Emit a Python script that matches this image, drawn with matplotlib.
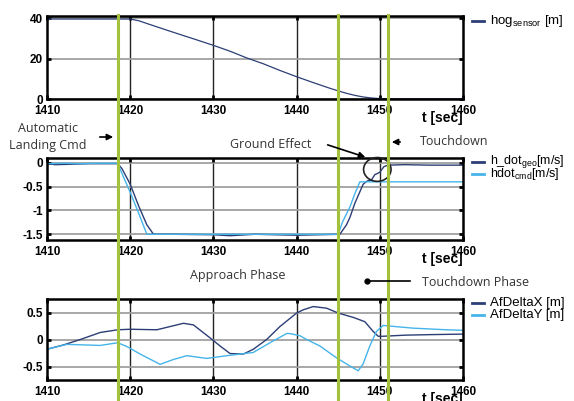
import numpy as np
import matplotlib.pyplot as plt
from matplotlib.patches import Ellipse, FancyArrowPatch

# time axis limits [sec]
T0, T1 = 1410, 1460

# height over ground from sensor [m]
t_hog = [1410, 1420, 1421, 1422, 1425, 1428, 1430, 1432, 1434, 1436, 1438, 1440,
         1442, 1444, 1445, 1446, 1447, 1448, 1449, 1450, 1452, 1460]
hog = [39.5, 39.5, 38.7, 37.3, 33.2, 29.2, 26.5, 23.6, 20.3, 17.4, 14.1, 11.0,
       8.1, 5.3, 4.0, 2.8, 1.8, 1.0, 0.5, 0.2, 0.1, 0.1]

# vertical speed, measured and commanded [m/s]
t_geo = [1410, 1411, 1413, 1415, 1417, 1418.5, 1419, 1420, 1421, 1422, 1422.8, 1425,
         1430, 1432, 1435, 1440, 1445.2, 1446, 1446.4, 1447, 1448, 1448.5, 1449,
         1449.4, 1450, 1450.5, 1451, 1453, 1456, 1460]
h_dot_geo = [-0.02, -0.04, -0.03, -0.02, -0.02, -0.02, -0.12, -0.45, -0.9, -1.3, -1.5, -1.5,
             -1.51, -1.53, -1.5, -1.52, -1.5, -1.3, -1.15, -0.85, -0.45, -0.38, -0.36,
             -0.25, -0.2, -0.08, -0.05, -0.04, -0.05, -0.05]
t_cmd = [1410, 1412, 1414, 1416, 1418.5, 1419, 1420, 1421, 1422, 1425, 1430, 1435,
         1440, 1445, 1445.5, 1446.4, 1447, 1447.6, 1450, 1455, 1460]
hdot_cmd = [-0.02, -0.01, -0.02, -0.01, -0.01, -0.22, -0.62, -1.05, -1.5, -1.5, -1.5, -1.5,
            -1.5, -1.5, -1.25, -0.93, -0.65, -0.4, -0.4, -0.4, -0.4]

# lateral deviations [m]
t_dx = [1410, 1412, 1414, 1416.4, 1418.5, 1420, 1423.2, 1426.4, 1427.6, 1429.6, 1430.8,
        1432, 1433.6, 1434.8, 1436.4, 1438, 1440, 1440.8, 1442, 1443.6, 1445, 1446.8,
        1448.2, 1449.2, 1449.8, 1450.4, 1453, 1456, 1460]
af_dx = [-0.18, -0.1, 0.0, 0.13, 0.18, 0.19, 0.18, 0.3, 0.27, 0.03, -0.12,
         -0.26, -0.27, -0.18, 0.0, 0.24, 0.49, 0.55, 0.61, 0.58, 0.49, 0.41,
         0.33, 0.15, 0.06, 0.06, 0.08, 0.09, 0.1]
t_dy = [1410, 1412.4, 1416.4, 1418.5, 1419.6, 1421.2, 1423.6, 1425.2, 1426.8, 1429.2,
        1431.6, 1434.8, 1436.8, 1438.8, 1439.2, 1440.4, 1441.2, 1442.8, 1444.8, 1446.4,
        1447.4, 1448, 1448.8, 1449.6, 1450.4, 1454, 1458, 1460]
af_dy = [-0.18, -0.09, -0.11, -0.06, -0.13, -0.27, -0.46, -0.37, -0.3, -0.35,
         -0.3, -0.24, -0.06, 0.11, 0.11, 0.07, 0.0, -0.12, -0.34, -0.49,
         -0.58, -0.45, -0.12, 0.15, 0.26, 0.21, 0.18, 0.17]

# phase markers [sec]
events = [1418.5, 1445, 1451]

dark = '#2c3e75'
light = '#45b4ea'
green = '#a3c13b'

W, H = 574, 401
fig = plt.figure(figsize=(W / 100, H / 100), dpi=100)

fx = lambda x: x / W
fy = lambda y: 1 - y / H

def px_box(left, top, right, bottom):
    return [left / W, 1 - bottom / H, (right - left) / W, (bottom - top) / H]

tick_font = dict(family='Liberation Sans', weight='bold', size=8.5)

def style(ax, yticks, ylim):
    ax.set_xlim(T0, T1)
    ax.set_ylim(*ylim)
    ax.set_xticks(np.arange(T0, T1 + 1, 10))
    ax.set_yticks(yticks)
    ax.set_yticklabels([('%g' % v) for v in yticks], **tick_font)
    ax.set_xticklabels([str(v) for v in np.arange(T0, T1 + 1, 10)], **tick_font)
    ax.tick_params(direction='in', length=3, width=2, top=True, right=True)
    ax.tick_params(axis='x', pad=4)
    ax.tick_params(axis='y', pad=3)
    for s in ax.spines.values():
        s.set_linewidth(1.8)
    for x in np.arange(T0 + 10, T1, 10):
        ax.axvline(x, color='#222222', lw=1.0, zorder=0.5)
    for y in yticks:
        ax.axhline(y, color='#a0a0a0', lw=1.3, zorder=0.5)
    ax.annotate('t [sec]', xy=(1.0, 0.0), xycoords='axes fraction', xytext=(0, -14),
                textcoords='offset points', ha='right', va='center',
                family='Liberation Sans', weight='bold', size=10)

# side legend: short line plus label, rows 12 px apart
def side_legend(entries, y0, size=9.5):
    for i, (label, color) in enumerate(entries):
        y = y0 + 12 * i
        fig.lines.append(plt.Line2D([fx(472), fx(484)], [fy(y), fy(y)], color=color,
                                    lw=2, transform=fig.transFigure))
        fig.text(fx(490), fy(y), label, ha='left', va='center', size=size,
                 family='Liberation Sans')

ax1 = fig.add_axes(px_box(47, 16, 463, 99))
ax1.plot(t_hog, hog, color=dark, lw=0.9)
style(ax1, [0, 20, 40], (0, 41))
side_legend([('hog$_\\mathregular{sensor}$ [m]', dark)], 21)

ax2 = fig.add_axes(px_box(47, 158, 463, 240))
ax2.plot(t_geo, h_dot_geo, color=dark, lw=1.0)
ax2.plot(t_cmd, hdot_cmd, color=light, lw=1.0)
style(ax2, [-1.5, -1, -0.5, 0], (-1.62, 0.1))
side_legend([('h_dot$_\\mathregular{geo}$[m/s]', dark),
             ('hdot$_\\mathregular{cmd}$[m/s]', light)], 162, size=9)
ax2.add_patch(Ellipse((1449.7, -0.14), 3.3, 0.5, fill=False, ec='#222222', lw=1.2,
                      clip_on=False, zorder=6))

ax3 = fig.add_axes(px_box(47, 299, 463, 380))
ax3.plot(t_dx, af_dx, color=dark, lw=1.0)
ax3.plot(t_dy, af_dy, color=light, lw=1.0)
style(ax3, [-0.5, 0, 0.5], (-0.75, 0.75))
side_legend([('AfDeltaX [m]', dark), ('AfDeltaY [m]', light)], 303)

# phase lines through all panels
ov = fig.add_axes(px_box(47, 14, 463, 401))
ov.set_xlim(T0, T1)
ov.set_ylim(0, 1)
ov.axis('off')
for e in events:
    ov.axvline(e, color=green, lw=2.2, zorder=10)

note = dict(family='Open Sans', size=9, color='#333333')

fig.text(fx(48), fy(128), 'Automatic', ha='center', va='center', **note)
fig.text(fx(48), fy(146), 'Landing Cmd', ha='center', va='center', **note)
fig.text(fx(230), fy(145), 'Ground Effect', ha='left', va='center', **note)
fig.text(fx(420), fy(142), 'Touchdown', ha='left', va='center', **note)
fig.text(fx(190), fy(276), 'Approach Phase', ha='left', va='center', **note)
fig.text(fx(422), fy(282), 'Touchdown Phase', ha='left', va='center', **note)

arw = dict(arrowstyle='-|>', color='black', lw=1.2, mutation_scale=9,
           transform=fig.transFigure)
fig.patches.append(FancyArrowPatch((fx(97), fy(137)), (fx(116), fy(137)), **arw))
fig.patches.append(FancyArrowPatch((fx(325), fy(144)), (fx(368), fy(158)), **arw))
fig.patches.append(FancyArrowPatch((fx(403), fy(142)), (fx(389), fy(142)), **arw))
fig.lines.append(plt.Line2D([fx(367), fx(410)], [fy(281), fy(281)], color='black',
                            lw=1.2, transform=fig.transFigure))
fig.lines.append(plt.Line2D([fx(367)], [fy(281)], marker='o', ms=3.5, color='black',
                            transform=fig.transFigure))

fig.savefig('out.png', dpi=100)
